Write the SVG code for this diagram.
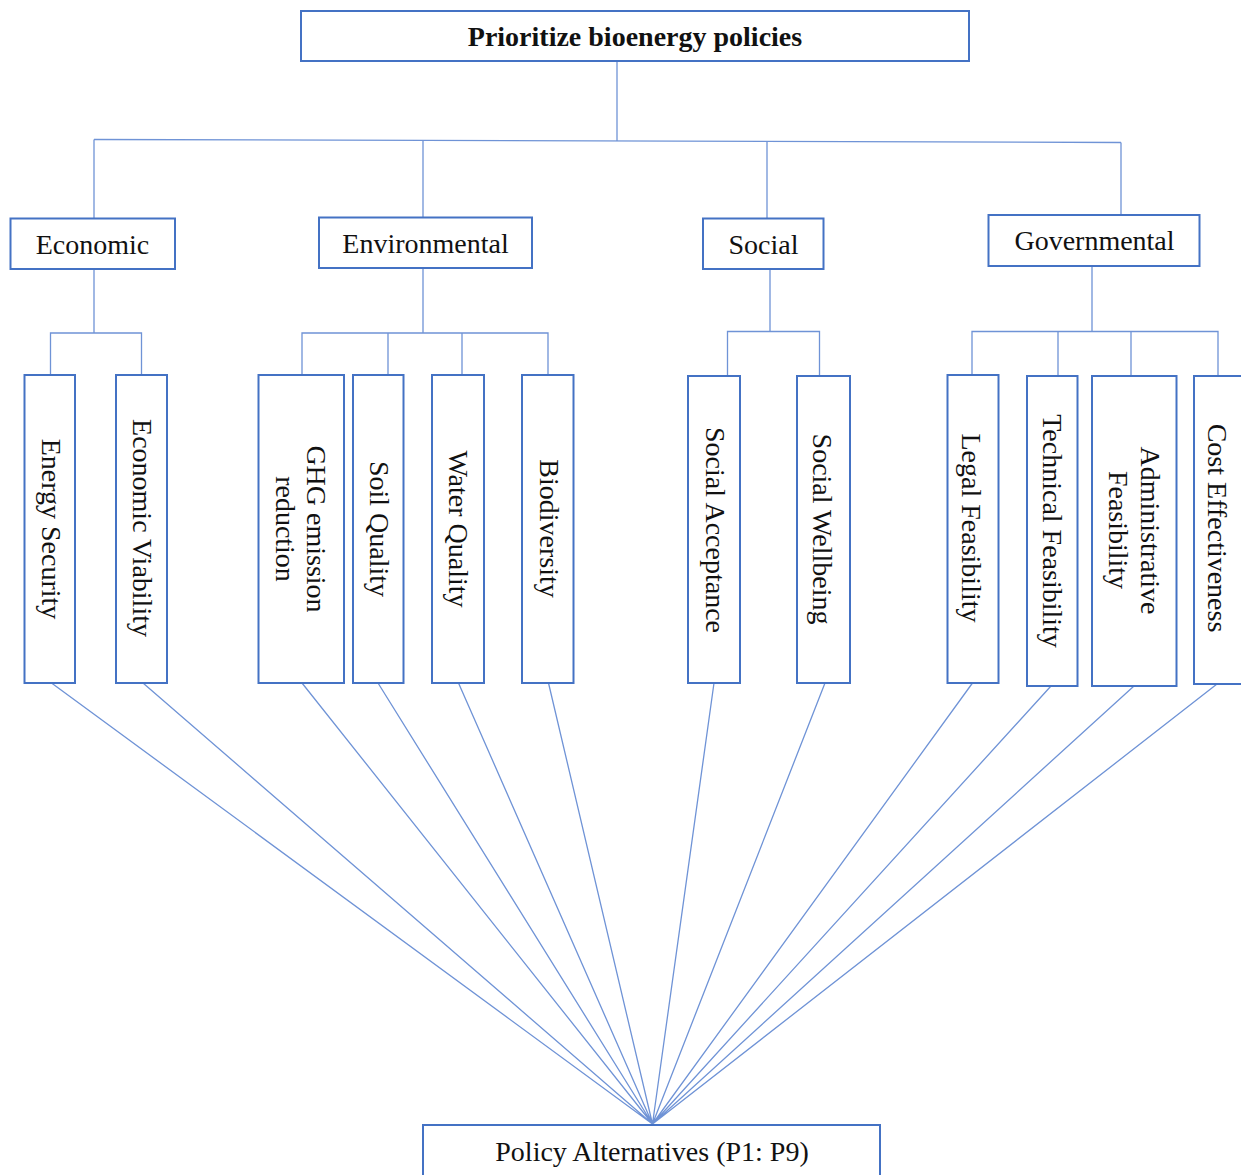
<svg xmlns="http://www.w3.org/2000/svg" width="1241" height="1175" viewBox="0 0 1241 1175">
<style>
.box{fill:#fff;stroke:#4472C4;stroke-width:2}
.t{font-family:"Liberation Serif","Times New Roman",serif;font-size:28px;fill:#111;text-anchor:middle}
.b{font-weight:bold}
.c line,.c path{stroke:#6F93D6;stroke-width:1.3;fill:none}
</style>
<rect width="1241" height="1175" fill="#fff"/>
<g class="c" id="connectors">
<line x1="617" y1="61" x2="617" y2="141"/>
<line x1="94" y1="139.5" x2="1121" y2="142.5"/>
<line x1="94" y1="139.5" x2="94" y2="218.5"/>
<line x1="423" y1="140.5" x2="423" y2="217.5"/>
<line x1="767" y1="141.5" x2="767" y2="218.5"/>
<line x1="1121" y1="142.5" x2="1121" y2="215"/>
<path d="M94 269V333M50.5 375V333H141.5V375"/>
<path d="M423 268V333M302 375V333H548V375M388 333V375M462 333V375"/>
<path d="M770 269V331.5M727.5 376V331.5H819.5V376"/>
<path d="M1092 266V331.5M972 375V331.5H1218V376M1058 331.5V376M1131 331.5V376"/>
<path d="M51.5 683L652.5 1124M143 683L652.5 1124M302 683L652.5 1124M378 683L652.5 1124M458.5 683L652.5 1124M548.5 683L652.5 1124M714 683L652.5 1124M825 683L652.5 1124M972.5 683L652.5 1124M1051 686L652.5 1124M1134 686L652.5 1124M1217 684L652.5 1124"/>
</g>
<g id="goal"><rect class="box" x="301" y="11" width="668" height="50"/><text class="t b" x="635" y="46">Prioritize bioenergy policies</text></g>
<g id="economic"><rect class="box" x="10.5" y="218.5" width="164.5" height="50.5"/><text class="t" x="92.5" y="254">Economic</text></g>
<g id="environmental"><rect class="box" x="319" y="217.5" width="213" height="50.5"/><text class="t" x="425.5" y="252.5">Environmental</text></g>
<g id="social"><rect class="box" x="703" y="218.5" width="120.5" height="50.5"/><text class="t" x="763.5" y="254">Social</text></g>
<g id="governmental"><rect class="box" x="988.5" y="215" width="211" height="51"/><text class="t" x="1094.5" y="250">Governmental</text></g>
<g id="energy-security"><rect class="box" x="24.5" y="375" width="50.5" height="308"/><text class="t" transform="translate(51,529) rotate(90)" y="9">Energy Security</text></g>
<g id="economic-viability"><rect class="box" x="116" y="375" width="51" height="308"/><text class="t" transform="translate(142,528) rotate(90)" y="9">Economic Viability</text></g>
<g id="ghg"><rect class="box" x="258.5" y="375" width="85.5" height="308"/><text class="t" transform="translate(316,529) rotate(90)" y="9">GHG emission</text><text class="t" transform="translate(285,529) rotate(90)" y="9">reduction</text></g>
<g id="soil-quality"><rect class="box" x="353" y="375" width="50.5" height="308"/><text class="t" transform="translate(379,529) rotate(90)" y="9">Soil Quality</text></g>
<g id="water-quality"><rect class="box" x="432" y="375" width="52" height="308"/><text class="t" transform="translate(458,529) rotate(90)" y="9">Water Quality</text></g>
<g id="biodiversity"><rect class="box" x="522" y="375" width="51.5" height="308"/><text class="t" transform="translate(548.5,528.5) rotate(90)" y="9">Biodiversity</text></g>
<g id="social-acceptance"><rect class="box" x="688" y="376" width="52" height="307"/><text class="t" transform="translate(714.5,530) rotate(90)" y="9">Social Acceptance</text></g>
<g id="social-wellbeing"><rect class="box" x="797" y="376" width="53" height="307"/><text class="t" transform="translate(822,529) rotate(90)" y="9">Social Wellbeing</text></g>
<g id="legal-feasibility"><rect class="box" x="947.5" y="375" width="51" height="308"/><text class="t" transform="translate(971,528) rotate(90)" y="9">Legal Feasibility</text></g>
<g id="technical-feasibility"><rect class="box" x="1027" y="376" width="50.5" height="310"/><text class="t" transform="translate(1052,531) rotate(90)" y="9">Technical Feasibility</text></g>
<g id="administrative-feasibility"><rect class="box" x="1092" y="376" width="84.5" height="310"/><text class="t" transform="translate(1150,530.5) rotate(90)" y="9">Administrative</text><text class="t" transform="translate(1118,530) rotate(90)" y="9">Feasibility</text></g>
<g id="cost-effectiveness"><rect class="box" x="1194" y="376" width="60" height="308"/><text class="t" transform="translate(1217,528) rotate(90)" y="9">Cost Effectiveness</text></g>
<g id="policy-alternatives"><rect class="box" x="423" y="1125" width="457" height="60"/><text class="t" x="652" y="1161">Policy Alternatives (P1: P9)</text></g>
</svg>
